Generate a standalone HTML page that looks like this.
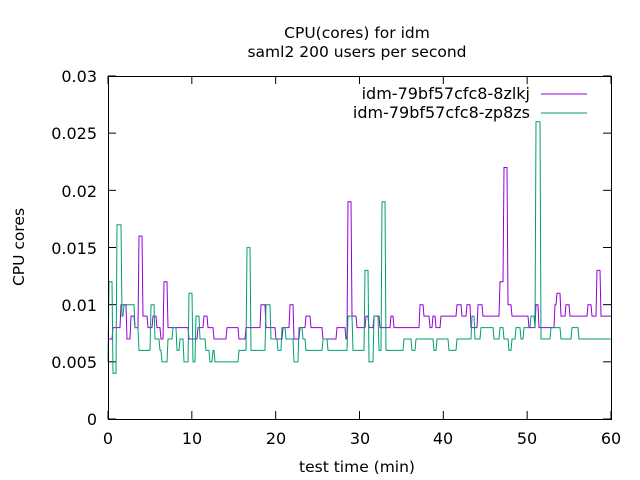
<!DOCTYPE html>
<html><head><meta charset="utf-8"><style>body{margin:0;background:#fff}svg{display:block}text{font-family:"DejaVu Sans","Liberation Sans",sans-serif;fill:#000}</style></head><body>
<svg id="s" width="640" height="480" xmlns="http://www.w3.org/2000/svg">
<text x="357" y="38" font-size="15.5" text-anchor="middle">CPU(cores) for idm</text>
<text x="357" y="57" font-size="15.5" text-anchor="middle">saml2 200 users per second</text>
<g font-size="16" text-anchor="end">
<text x="97" y="425">0</text><text x="97" y="368">0.005</text><text x="97" y="311">0.01</text><text x="97" y="254">0.015</text><text x="97" y="197">0.02</text><text x="97" y="139">0.025</text><text x="97" y="82">0.03</text>
</g>
<g font-size="16" text-anchor="middle">
<text x="108" y="444">0</text><text x="192" y="444">10</text><text x="276" y="444">20</text><text x="360" y="444">30</text><text x="443" y="444">40</text><text x="527" y="444">50</text><text x="611" y="444">60</text>
</g>
<text x="357" y="472" font-size="15.5" text-anchor="middle">test time (min)</text>
<text transform="translate(24,247) rotate(-90)" font-size="15.5" text-anchor="middle">CPU cores</text>
<g id="ticks" stroke="#000" stroke-width="1"></g>
<text x="530" y="99" font-size="16" text-anchor="end">idm-79bf57cfc8-8zlkj</text>
<text x="530" y="118" font-size="16" text-anchor="end">idm-79bf57cfc8-zp8zs</text>
<line x1="541" y1="94" x2="587" y2="94" stroke="#9400d3"/>
<line x1="541" y1="113" x2="587" y2="113" stroke="#009e73"/>
<polyline id="p" fill="none" stroke="#9400d3" stroke-width="1"/>
<polyline id="g" fill="none" stroke="#009e73" stroke-width="1"/>
<rect x="108.5" y="76.5" width="503" height="343" fill="none" stroke="#000"/>
</svg>
<script>
function Y(v){return 419-v*11.43;}
function build(a){var pts=[];for(var i=0;i<a.length;i+=2){var x=a[i],v=a[i+1];var ne=(i+2<a.length)?a[i+2]-1:611;pts.push(x+','+Y(v).toFixed(1));pts.push(Math.max(x,ne)+','+Y(v).toFixed(1));}return pts.join(' ');}
var P=[108,7,113,8,121,10,127,7,131,9,135,8,139,16,143,9,148,8,153,9,157,8,161,7,164,12,168,8,189,7,198,8,204,9,208,8,214,7,227,8,239,7,246,8,261,10,266,8,276,7,283,8,290,10,294,7,300,8,306,9,311,8,323,7,337,8,346,7,348,19,352,9,357,8,366,9,369,8,374,9,380,8,391,9,394,8,420,10,424,9,430,8,433,9,436,8,441,9,457,10,462,9,467,10,471,8,478,10,483,9,500,12,504,22,508,10,512,9,529,8,534,8,536,10,539,8,550,8,555,10,557,11,561,9,566,10,570,9,588,10,592,9,597,13,601,9];
var G=[108,5,109,12,113,4,117,17,122,9,124,10,135,8,139,6,151,10,155,7,160,6,162,5,168,7,173,8,177,6,180,7,184,5,189,11,193,5,196,9,200,7,206,6,210,5,213,6,215,5,219,5,239,6,247,15,251,6,266,10,271,7,278,6,282,8,286,7,294,5,299,8,303,7,306,6,323,7,328,6,348,9,353,6,365,13,369,5,374,9,379,6,382,19,386,6,404,7,412,6,416,7,434,6,437,7,449,6,457,7,472,9,475,7,481,8,494,7,500,8,504,7,509,6,512,7,516,8,521,7,524,8,531,9,535,8,536,26,541,7,551,8,561,7,572,8,579,7];
document.getElementById('p').setAttribute('points',build(P));
document.getElementById('g').setAttribute('points',build(G));
var t=document.getElementById('ticks'),h='';
for(var k=0;k<=6;k++){var y=419-k*57.17;h+='<line x1="108" y1="'+y+'" x2="116" y2="'+y+'"/><line x1="603" y1="'+y+'" x2="611" y2="'+y+'"/>';var x=108+k*83.83;h+='<line x1="'+x+'" y1="419" x2="'+x+'" y2="411"/><line x1="'+x+'" y1="76" x2="'+x+'" y2="84"/>';}
t.innerHTML=h;
</script>
</body></html>
